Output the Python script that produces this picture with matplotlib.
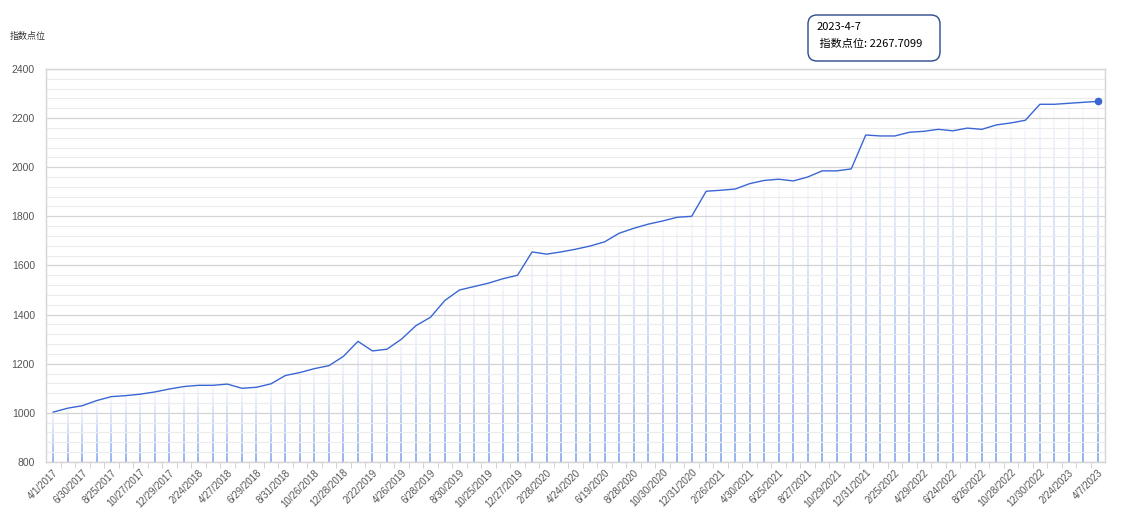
import matplotlib.pyplot as plt
import numpy as np
from matplotlib.collections import LineCollection
from matplotlib.patches import FancyBboxPatch

plt.rcParams['font.family'] = ['Liberation Sans', 'Noto Sans CJK SC', 'DejaVu Sans']

# every data point (one per month); only every other one gets a label
dates = ['4/1/2017', '5/26/2017', '6/30/2017', '7/28/2017', '8/25/2017', '9/29/2017',
         '10/27/2017', '11/24/2017', '12/29/2017', '1/26/2018', '2/24/2018', '3/30/2018',
         '4/27/2018', '5/25/2018', '6/29/2018', '7/27/2018', '8/31/2018', '9/28/2018',
         '10/26/2018', '11/30/2018', '12/28/2018', '1/25/2019', '2/22/2019', '3/29/2019',
         '4/26/2019', '5/31/2019', '6/28/2019', '7/26/2019', '8/30/2019', '9/27/2019',
         '10/25/2019', '11/29/2019', '12/27/2019', '1/23/2020', '2/28/2020', '3/27/2020',
         '4/24/2020', '5/29/2020', '6/19/2020', '7/31/2020', '8/28/2020', '9/30/2020',
         '10/30/2020', '11/27/2020', '12/31/2020', '1/29/2021', '2/26/2021', '3/26/2021',
         '4/30/2021', '5/28/2021', '6/25/2021', '7/30/2021', '8/27/2021', '9/30/2021',
         '10/29/2021', '11/26/2021', '12/31/2021', '1/28/2022', '2/25/2022', '3/25/2022',
         '4/29/2022', '5/27/2022', '6/24/2022', '7/29/2022', '8/26/2022', '9/30/2022',
         '10/28/2022', '11/25/2022', '12/30/2022', '1/20/2023', '2/24/2023', '3/31/2023',
         '4/7/2023']
values = [1003, 1019, 1029, 1050, 1066, 1070, 1076, 1085, 1097, 1107,
          1112, 1112, 1117, 1100, 1104, 1118, 1152, 1164, 1180, 1192,
          1230, 1291, 1252, 1259, 1300, 1355, 1389, 1458, 1500, 1514,
          1528, 1546, 1560, 1655, 1646, 1655, 1666, 1679, 1696, 1731,
          1751, 1768, 1781, 1796, 1800, 1902, 1906, 1911, 1933, 1946,
          1951, 1944, 1960, 1985, 1985, 1993, 2131, 2127, 2127, 2142,
          2146, 2154, 2148, 2159, 2154, 2172, 2180, 2191, 2256, 2256,
          2260, 2264, 2267.7099]

tip_date = '2023-4-7'
tip_label = '指数点位'
y_name = '指数点位'

fig = plt.figure(figsize=(11.22, 5.22), dpi=100)
ax = fig.add_axes([0.041, 0.115, 0.944, 0.753])

x = np.arange(len(values))
ymin = 800

# gradient drop bars under each point
segs, cols = [], []
n = 30
for xi, v in zip(x, values):
    edges = np.linspace(v, ymin, n + 1)
    for k in range(n):
        segs.append([(xi, edges[k]), (xi, edges[k + 1])])
        a = (k + 0.5) / n
        cols.append((0.42, 0.58, 0.92, 0.04 + 0.72 * a))
ax.add_collection(LineCollection(segs, colors=cols, linewidths=1.3, capstyle='butt', zorder=1))

ax.plot(x, values, color='#3a66d4', linewidth=1.0, zorder=3)
ax.plot(x[-1], values[-1], 'o', color='#3a66d4', markersize=4.5, zorder=4)

ax.set_xlim(-0.5, len(values) - 0.5)
ax.set_ylim(800, 2400)
ax.set_yticks(np.arange(800, 2401, 200))
ax.set_yticks(np.arange(800, 2401, 40), minor=True)
ax.grid(True, which='major', axis='y', color='#d4d4d4', linewidth=0.9, zorder=0)
ax.grid(True, which='minor', axis='y', color='#ececec', linewidth=0.8, zorder=0)

ax.set_xticks(x[::2])
ax.set_xticklabels(dates[::2], rotation=45, ha='right', rotation_mode='anchor',
                   fontsize=7, color='#555555')
ax.set_xticks(x[:-1] + 0.5, minor=True)
ax.tick_params(axis='x', which='major', length=0, pad=4)
ax.tick_params(axis='x', which='minor', length=4, color='#cccccc')
ax.tick_params(axis='y', which='both', length=0, labelsize=7.5, labelcolor='#555555', pad=8)

for s in ax.spines.values():
    s.set_color('#d4d4d4')
    s.set_linewidth(1.0)

fig.text(0.009, 0.931, y_name, fontsize=6.5, color='#333333',
         family=['Noto Sans CJK SC'], va='center')

# tooltip, drawn in its own pixel-unit axes so the corners stay round
tip = fig.add_axes([807 / 1122, 1 - 62 / 522, 134 / 1122, 48 / 522])
tip.set_xlim(0, 134)
tip.set_ylim(0, 48)
tip.axis('off')
tip.add_patch(FancyBboxPatch((1, 1), 132, 46, boxstyle='round,pad=0,rounding_size=9',
                             facecolor='white', edgecolor='#2c4a8c', linewidth=1.0,
                             clip_on=False))
tip.text(10, 35, tip_date, fontsize=8, color='black',
         family=['Noto Sans CJK SC', 'DejaVu Sans'], va='center')
tip.text(10, 18, ' ' + tip_label + ': ' + f'{values[-1]:.4f}', fontsize=8, color='black',
         family=['Noto Sans CJK SC', 'DejaVu Sans'], va='center')

fig.savefig('out.png', dpi=100)
